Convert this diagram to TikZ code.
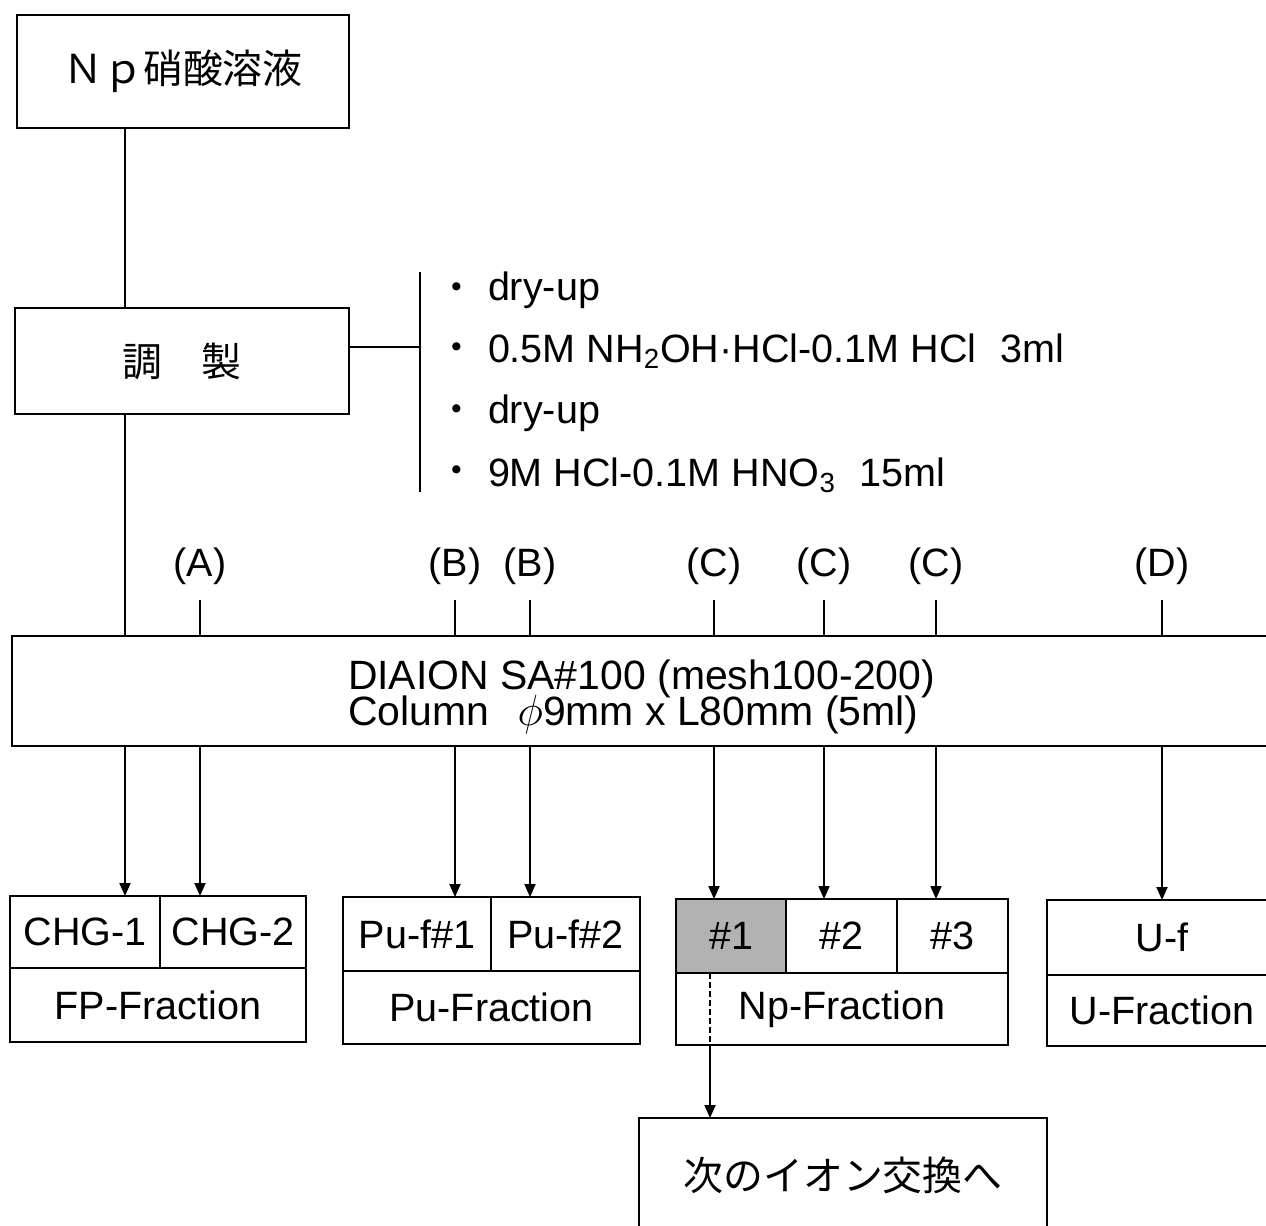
\documentclass[tikz,border=0pt]{standalone}
\usepackage{fontspec}
\setmainfont{Liberation Sans}
\newfontfamily\jp{Noto Sans CJK JP}
\usetikzlibrary{arrows.meta,calc}
\begin{document}
\begin{tikzpicture}[x=0.02cm,y=-0.02cm,
  every node/.style={inner sep=0pt,outer sep=0pt},
  line width=1.1pt,
  cell/.style 2 args={draw, minimum width={#1*0.02cm}, minimum height={#2*0.02cm}, font=\fontsize{22.5}{26}\selectfont},
  jptext/.style={font=\jp\fontsize{22.7}{27}\selectfont},
  lat/.style={font=\fontsize{22.5}{26}\selectfont},
  arr/.style={-{Triangle[length=0.26cm,width=0.22cm]}},
]
\useasboundingbox (0,0) rectangle (1266,1225);
\clip (0,0) rectangle (1266,1225);

% top boxes
\node[cell={332}{113}, jptext] (top) at (183,71.5) {Ｎｐ硝酸溶液};
\node[cell={334}{106}, jptext] (prep) at (182,361) {調　製};
\coordinate (trunk) at (125,0);
\draw (trunk |- top.south) -- (trunk |- prep.north);

% bracket and conditions
\coordinate (brtop) at (420,272);
\coordinate (brbot) at (420,492);
\draw (brtop) -- (brbot);
\coordinate (pj) at ([yshift=0.28cm]prep.east);
\draw (pj) -- (pj -| brtop);
\node[font=\jp\fontsize{22}{26}\selectfont] (b1) at (457,292) {・};
\node[font=\jp\fontsize{22}{26}\selectfont] (b2) at (457,352) {・};
\node[font=\jp\fontsize{22}{26}\selectfont] (b3) at (457,414) {・};
\node[font=\jp\fontsize{22}{26}\selectfont] (b4) at (457,475) {・};
\node[lat, anchor=base west] (l1) at (488,300) {dry-up};
\node[lat, anchor=base west] (l2) at (488,362) {0.5M NH\textsubscript{2}OH·HCl-0.1M HCl\hspace{0.6em}3ml};
\node[lat, anchor=base west] (l3) at (488,423) {dry-up};
\node[lat, anchor=base west] (l4) at (488,486) {9M HCl-0.1M HNO\textsubscript{3}\hspace{0.6em}15ml};

% column
\node[draw, minimum width={1288*0.02cm}, minimum height={110*0.02cm}] (col) at (656,691) {};
\node[font=\fontsize{23.3}{19.8}\selectfont, align=left, anchor=west] (ct) at (348,697)
  {DIAION SA\#100 (mesh100-200)\\[-0.09cm]Column\hspace{0.7em}$\phi$9mm x L80mm (5ml)};
\draw (trunk |- prep.south) -- (trunk |- col.north);

% labels and ticks
\node[lat] (la) at (200,566) {(A)};
\node[lat] (lb1) at (455,566) {(B)};
\node[lat] (lb2) at (530,566) {(B)};
\node[lat] (lc1) at (714,566) {(C)};
\node[lat] (lc2) at (824,566) {(C)};
\node[lat] (lc3) at (936,566) {(C)};
\node[lat] (ld) at (1162,566) {(D)};
\foreach \n in {la,lb1,lb2,lc1,lc2,lc3,ld}
  \draw (\n) ++(0,34) -- (\n |- col.north);

% fraction boxes
\node[cell={150}{72}] (chg1) at (85,932) {CHG-1};
\node[cell={146}{72}] (chg2) at (233,932) {CHG-2};
\node[cell={296}{74}] (fp) at (158,1005) {FP-Fraction};

\node[cell={148}{74}] (puf1) at (417,934) {Pu-f\#1};
\node[cell={149}{74}] (puf2) at (565.5,934) {Pu-f\#2};
\node[cell={297}{73}] (puf) at (491.5,1007.5) {Pu-Fraction};

\node[cell={110}{74}, fill=black!30] (n1) at (731,936) {\#1};
\node[cell={111}{74}] (n2) at (841.5,936) {\#2};
\node[cell={111}{74}] (n3) at (952.5,936) {\#3};
\node[cell={332}{72}] (npf) at (842,1009) {Np-Fraction};

\node[cell={230}{75}] (uf) at (1162,937.5) {U-f};
\node[cell={230}{71}] (ufr) at (1162,1010.5) {U-Fraction};

\node[cell={408}{114}, jptext] (next) at (843,1175) {次のイオン交換へ};

% arrows
\draw[arr] (trunk |- col.south) -- (trunk |- chg1.north);
\draw[arr] (la |- col.south) -- (la |- chg2.north);
\draw[arr] (lb1 |- col.south) -- (lb1 |- puf1.north);
\draw[arr] (lb2 |- col.south) -- (lb2 |- puf2.north);
\draw[arr] (lc1 |- col.south) -- (lc1 |- n1.north);
\draw[arr] (lc2 |- col.south) -- (lc2 |- n2.north);
\draw[arr] (lc3 |- col.south) -- (lc3 |- n3.north);
\draw[arr] (ld |- col.south) -- (ld |- uf.north);

\coordinate (dx) at (710,0);
\draw[dash pattern=on 0.12cm off 0.06cm] (dx |- n1.south) -- (dx |- npf.south);
\draw[arr] (dx |- npf.south) -- (dx |- next.north);
\end{tikzpicture}
\end{document}
